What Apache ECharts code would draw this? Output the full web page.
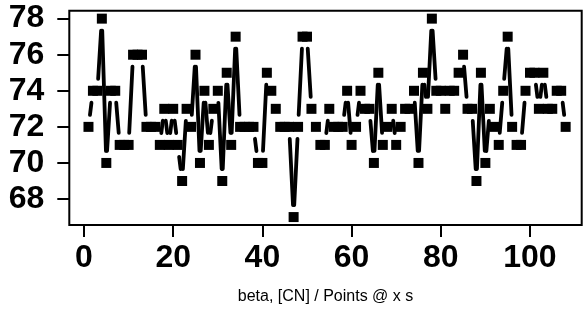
<!DOCTYPE html>
<html><head><meta charset="utf-8">
<script src="https://cdn.jsdelivr.net/npm/echarts@6/dist/echarts.min.js"></script>
<style>html,body{margin:0;padding:0;background:#fff}#c{width:584px;height:326px}</style>
</head><body><div id="c"></div>
<script>
// Measured value at each successive point (point number = position in list, starting at 1)
const values = [
  72,74,74,78,70,74,74,71,71,71,
  76,76,76,72,72,72,71,73,71,73,
  71,69,73,72,76,70,74,71,73,74,
  69,75,71,77,72,72,72,72,70,70,
  75,74,73,72,72,72,67,72,77,77,
  73,72,71,71,73,72,72,72,74,71,
  72,74,73,73,70,75,71,72,73,71,
  72,73,73,74,70,75,73,78,74,74,
  73,74,74,75,76,73,73,69,75,70,
  73,72,71,74,77,72,71,71,74,75,
  75,73,75,73,73,74,74,72
];
const xTicks = [0, 20, 40, 60, 80, 100];
const yTicks = [68, 70, 72, 74, 76, 78];
const xTitle = 'beta, [CN] / Points @ x s';

const points = values.map((v, i) => [i + 1, v]);
const segments = [];
for (let i = 0; i < points.length - 1; i++) {
  segments.push([points[i][0], points[i][1], points[i + 1][0], points[i + 1][1]]);
}

const FONT = '"Liberation Sans", Arial, Helvetica, sans-serif';
const GAP = 12;
const chart = echarts.init(document.getElementById('c'), null, {renderer: 'canvas'});
chart.setOption({
  animation: false,
  backgroundColor: '#fff',
  grid: {left: 69.3, top: 10.7, right: 2.3, bottom: 101, show: true, borderColor: '#000', borderWidth: 2,
         backgroundColor: 'transparent', containLabel: false, outerBoundsMode: 'none'},
  xAxis: {
    type: 'value', min: -3.3, max: 111.6,
    axisLine: {show: false, onZero: false}, splitLine: {show: false},
    axisTick: {show: true, customValues: xTicks, length: 12, lineStyle: {color: '#000', width: 2}},
    axisLabel: {customValues: xTicks, margin: 17, color: '#000', fontSize: 32, fontWeight: 'bold', fontFamily: FONT},
    name: xTitle, nameLocation: 'middle', nameGap: 64,
    nameTextStyle: {color: '#000', fontSize: 16, fontFamily: FONT}
  },
  yAxis: {
    type: 'value', min: 66.56, max: 78.44,
    axisLine: {show: false, onZero: false}, splitLine: {show: false},
    axisTick: {show: true, customValues: yTicks, length: 12, lineStyle: {color: '#000', width: 2}},
    axisLabel: {customValues: yTicks, margin: 25, color: '#000', fontSize: 32, fontWeight: 'bold', fontFamily: FONT}
  },
  series: [
    {
      type: 'custom', coordinateSystem: 'cartesian2d', silent: true,
      encode: {x: [0, 2], y: [1, 3]},
      data: segments,
      renderItem: function (params, api) {
        const a = api.coord([api.value(0), api.value(1)]);
        const b = api.coord([api.value(2), api.value(3)]);
        const dx = b[0] - a[0], dy = b[1] - a[1];
        const L = Math.hypot(dx, dy);
        if (L <= 2 * GAP) return {type: 'group', children: []};
        const ux = dx / L, uy = dy / L;
        return {
          type: 'line',
          shape: {x1: a[0] + ux * GAP, y1: a[1] + uy * GAP, x2: b[0] - ux * GAP, y2: b[1] - uy * GAP},
          style: {stroke: '#000', lineWidth: 3.8, lineCap: 'round'}
        };
      }
    },
    {
      type: 'scatter', silent: true, symbol: 'rect', symbolSize: 10,
      itemStyle: {color: '#000', opacity: 1},
      data: points
    }
  ]
});
</script>
</body></html>
